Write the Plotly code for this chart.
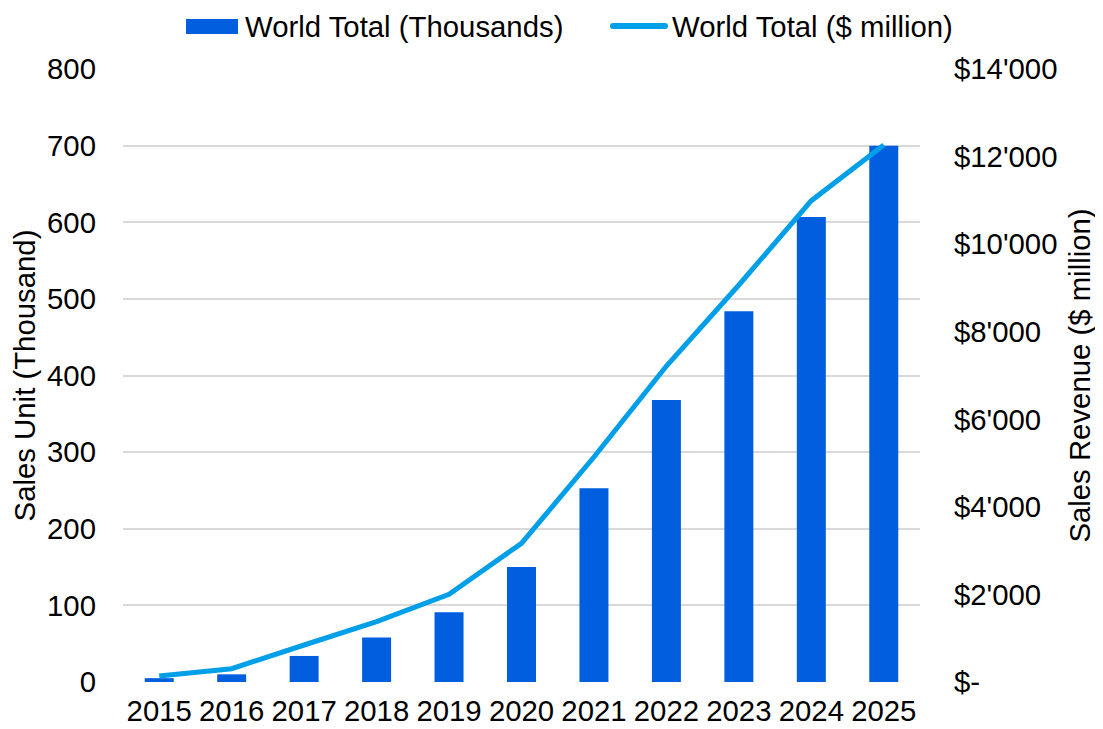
import plotly.graph_objects as go

years = ["2015", "2016", "2017", "2018", "2019", "2020", "2021", "2022", "2023", "2024", "2025"]
units_thousands = [5, 10, 34, 58, 91, 150, 253, 368, 484, 607, 700]
revenue_million = [137, 304, 845, 1377, 2003, 3168, 5139, 7217, 9066, 10993, 12265]

left_ticks = [0, 100, 200, 300, 400, 500, 600, 700, 800]
right_tickvals = [0, 2000, 4000, 6000, 8000, 10000, 12000, 14000]
right_ticktext = ["$-", "$2'000", "$4'000", "$6'000", "$8'000", "$10'000", "$12'000", "$14'000"]

bar_name = "World Total (Thousands)"
line_name = "World Total ($ million)"

font = "Liberation Sans, Arial, sans-serif"
bar_color = "#005EDF"
line_color = "#009FE8"
fs = 29.33

# figure geometry (page body adds an 8px offset)
W, H = 1095, 721
ml, mr, mt, mb = 115, 183, 61, 47
pw, ph = W - ml - mr, H - mt - mb


def px_x(p):
    return (p - ml) / pw


def px_y(p):
    return (H - mb - p) / ph


fig = go.Figure()
fig.add_trace(go.Bar(
    x=years, y=units_thousands, name=bar_name,
    marker=dict(color=bar_color, line=dict(width=0)),
    yaxis="y", showlegend=False,
))
fig.add_trace(go.Scatter(
    x=years, y=revenue_million, name=line_name,
    mode="lines", line=dict(color=line_color, width=5),
    yaxis="y2", showlegend=False,
))

# manual legend (wide swatches as in the reference)
leg_y = 18
fig.add_shape(type="rect", xref="paper", yref="paper",
              x0=px_x(178), x1=px_x(230), y0=px_y(26), y1=px_y(11),
              fillcolor=bar_color, line=dict(width=0))
fig.add_annotation(text=bar_name, xref="paper", yref="paper", x=px_x(235), y=px_y(leg_y),
                   xanchor="left", yanchor="middle", showarrow=False,
                   font=dict(size=fs, family=font, color="#000"))
fig.add_shape(type="line", xref="paper", yref="paper",
              x0=px_x(605), x1=px_x(657), y0=px_y(leg_y), y1=px_y(leg_y),
              line=dict(color=line_color, width=6))
fig.add_shape(type="circle", xref="paper", yref="paper",
              x0=px_x(602), x1=px_x(608), y0=px_y(leg_y + 3), y1=px_y(leg_y - 3),
              fillcolor=line_color, line=dict(width=0))
fig.add_shape(type="circle", xref="paper", yref="paper",
              x0=px_x(654), x1=px_x(660), y0=px_y(leg_y + 3), y1=px_y(leg_y - 3),
              fillcolor=line_color, line=dict(width=0))
fig.add_annotation(text=line_name, xref="paper", yref="paper", x=px_x(662), y=px_y(leg_y),
                   xanchor="left", yanchor="middle", showarrow=False,
                   font=dict(size=fs, family=font, color="#000"))

fig.update_layout(
    width=W, height=H,
    margin=dict(l=ml, r=mr, t=mt, b=mb, autoexpand=False),
    paper_bgcolor="white", plot_bgcolor="white",
    font=dict(family=font, size=fs, color="#000000"),
    bargap=0.6,
    showlegend=False,
    xaxis=dict(tickfont=dict(size=fs), showgrid=False, showline=False, ticks="",
               automargin=False, ticklabelstandoff=9),
    yaxis=dict(range=[0, 800], tickvals=left_ticks, showgrid=True, gridcolor="#D9D9D9",
               gridwidth=1.5, zeroline=False, showline=False, ticks="",
               automargin=False, ticklabelstandoff=26,
               title=dict(text="Sales Unit (Thousand)", font=dict(size=fs), standoff=9),
               tickfont=dict(size=fs)),
    yaxis2=dict(range=[0, 14000], tickvals=right_tickvals, ticktext=right_ticktext,
                overlaying="y", side="right", showgrid=False, zeroline=False,
                showline=False, ticks="", automargin=False, ticklabelstandoff=33,
                title=dict(text="Sales Revenue ($ million)", font=dict(size=fs), standoff=13),
                tickfont=dict(size=fs)),
)

fig.write_html("out.html")
